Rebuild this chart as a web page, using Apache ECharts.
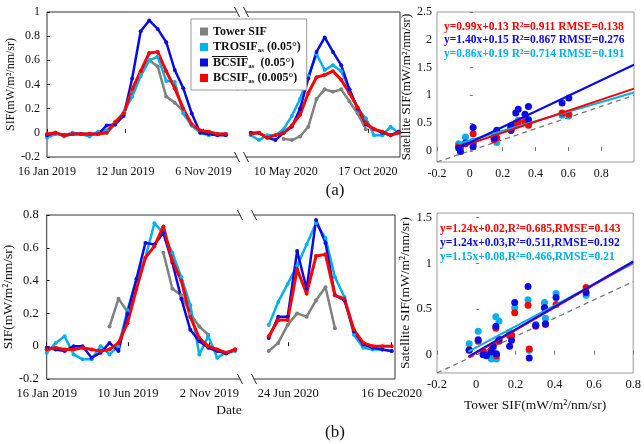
<!DOCTYPE html>
<html><head><meta charset="utf-8">
<script src="https://cdn.jsdelivr.net/npm/echarts@6/dist/echarts.min.js"></script>
<style>html,body{margin:0;padding:0;background:#fff}#c{width:644px;height:444px}</style>
</head><body><div id="c"></div>
<script>
// ---------- dates (16-day composites) ----------
const dates2019 = ['2019-01-16','2019-02-01','2019-02-17','2019-03-05','2019-03-21','2019-04-06','2019-04-22','2019-05-08','2019-05-24','2019-06-09','2019-06-25','2019-07-11','2019-07-27','2019-08-12','2019-08-28','2019-09-13','2019-09-29','2019-10-15','2019-10-31','2019-11-16','2019-12-02','2019-12-18'];
const datesA2020 = ['2020-03-03','2020-03-19','2020-04-04','2020-04-20','2020-05-06','2020-05-22','2020-06-07','2020-06-23','2020-07-09','2020-07-25','2020-08-10','2020-08-26','2020-09-11','2020-09-27','2020-10-13','2020-10-29','2020-11-14','2020-11-30','2020-12-16'];
const datesB2020 = ['2020-05-22','2020-06-07','2020-06-23','2020-07-09','2020-07-25','2020-08-10','2020-08-26','2020-09-11','2020-09-27','2020-10-13','2020-10-29','2020-11-14','2020-11-30','2020-12-16'];

// ---------- tick labels ----------
const ticksA1 = ['2019-01-16','2019-06-12','2019-11-06'];
const tickLabelsA1 = ['16 Jan 2019','12 Jun 2019','6 Nov 2019'];
const ticksA2 = ['2020-05-10','2020-10-17'];
const tickLabelsA2 = ['10 May 2020','17 Oct 2020'];
const ticksB1 = ['2019-01-16','2019-06-10','2019-11-02'];
const tickLabelsB1 = ['16 Jan 2019','10 Jun 2019','2 Nov 2019'];
const ticksB2 = ['2020-06-24','2020-12-16'];
const tickLabelsB2 = ['24 Jun 2020','16 Dec2020'];

// ---------- panel (a) time series ----------
const towerA1 = [-0.02,0.0,-0.03,-0.01,-0.01,-0.01,-0.01,0.0,0.07,0.15,0.34,0.5,0.6,0.55,0.3,0.25,0.18,0.06,0.01,0.0,-0.01,-0.01];
const troA1   = [-0.04,-0.01,-0.02,0.0,-0.01,-0.03,0.01,0.02,0.08,0.17,0.3,0.47,0.6,0.63,0.43,0.42,0.16,0.06,0.0,-0.02,-0.01,-0.01];
const bc05A1  = [-0.02,0.0,-0.02,-0.01,-0.01,-0.01,-0.01,0.06,0.07,0.14,0.45,0.84,0.93,0.86,0.75,0.52,0.37,0.16,0.0,-0.01,-0.02,-0.02];
const bc005A1 = [-0.01,0.0,-0.02,-0.01,-0.01,-0.01,-0.01,0.0,0.09,0.16,0.36,0.51,0.66,0.67,0.51,0.37,0.2,0.07,0.02,0.01,-0.01,-0.01];
const towerA2 = [null,null,null,null,-0.05,-0.06,-0.03,0.05,0.28,0.36,0.34,0.36,0.26,0.16,0.03,null,null,null,null];
const troA2   = [-0.02,-0.06,-0.02,-0.02,0.03,0.14,0.28,0.47,0.65,0.52,0.56,0.51,0.36,0.2,0.12,-0.02,-0.02,0.05,0.0];
const bc05A2  = [0.0,0.0,-0.04,-0.06,0.0,0.05,0.2,0.45,0.67,0.79,0.67,0.56,0.36,0.2,0.07,0.03,0.0,-0.02,0.01];
const bc005A2 = [-0.01,0.0,-0.04,-0.02,0.0,0.06,0.15,0.33,0.46,0.48,0.51,0.44,0.33,0.21,0.08,0.03,0.01,-0.02,0.0];

// ---------- panel (b) time series ----------
const towerB1 = [null,null,null,null,null,null,null,0.12,0.29,0.21,null,null,null,0.57,0.35,0.31,0.2,0.12,0.07,null,null,null];
const troB1   = [-0.04,0.02,0.06,-0.05,-0.08,-0.08,0.0,-0.05,0.0,0.22,0.41,0.54,0.75,0.69,0.57,0.42,0.25,-0.05,0.06,-0.07,-0.04,-0.03];
const bc05B1  = [-0.01,-0.02,-0.03,0.0,0.0,-0.07,-0.04,0.02,-0.03,0.2,0.41,0.63,0.62,0.69,0.51,0.29,0.1,0.03,-0.01,-0.03,-0.045,-0.02];
const bc005B1 = [-0.02,-0.01,-0.02,-0.02,-0.01,-0.02,-0.03,-0.02,0.02,0.14,0.35,0.54,0.61,0.73,0.52,0.4,0.18,0.05,0.0,-0.02,-0.04,-0.02];
const towerB2 = [-0.03,0.02,0.13,0.2,0.18,0.28,0.36,0.11,null,null,null,null,null,null];
const troB2   = [0.13,0.27,0.38,0.49,0.62,0.75,0.66,0.42,0.3,0.07,-0.01,-0.02,-0.02,-0.03];
const bc05B2  = [0.05,0.18,0.18,0.58,0.35,0.77,0.63,0.31,0.28,0.09,0.01,-0.01,-0.02,-0.03];
const bc005B2 = [0.06,0.16,0.16,0.47,0.32,0.55,0.56,0.31,0.29,0.1,0.02,0.0,0.0,0.0];

// ---------- scatter (a) ----------
const towerXA = [-0.068,-0.057,-0.027,0.02,0.02,0.148,0.164,0.25,0.25,0.28,0.295,0.336,0.357,0.357,0.562,0.603];
const satBlueA = [0.05,-0.01,0.14,0.42,0.08,0.23,0.37,0.45,0.37,0.68,0.75,0.66,0.8,0.56,0.86,0.95];
const satRedA  = [0.08,0.06,0.13,0.31,0.13,0.2,0.23,0.37,0.4,0.49,0.52,0.52,0.46,0.5,0.68,0.66];
const satCyanA = [0.13,0.1,0.25,0.18,0.15,0.26,0.15,0.43,0.4,0.5,0.55,0.58,0.56,0.52,0.64,0.63];
const fitA = {red:[0.99,0.13], blue:[1.40,0.15], cyan:[0.86,0.19]};
const eqA = ['y=0.99x+0.13 R²=0.911 RMSE=0.138','y=1.40x+0.15 R²=0.867 RMSE=0.276','y=0.86x+0.19 R²=0.714 RMSE=0.191'];

// ---------- scatter (b) ----------
const towerXB = [-0.036,0.01,0.035,0.052,0.077,0.086,0.1,0.103,0.116,0.17,0.18,0.196,0.264,0.27,0.303,0.348,0.353,0.407,0.56];
const satBlueB = [0.048,0.165,0.0,-0.011,0.026,0.092,0.31,0.011,0.17,0.092,0.158,0.57,0.746,-0.037,0.32,0.515,0.34,0.625,0.68];
const satRedB  = [0.055,0.147,0.037,0.0,0.055,0.1,0.29,-0.01,0.147,0.21,0.21,0.46,0.54,0.063,0.31,0.515,0.33,0.55,0.735];
const satCyanB = [0.12,0.257,0.026,0.018,-0.048,0.07,0.415,-0.048,0.37,0.246,0.22,0.515,0.6,0.048,0.33,0.57,0.4,0.67,0.65];
const fitB = {red:[1.24,0.02], blue:[1.24,0.03], cyan:[1.15,0.08]};
const eqB = ['y=1.24x+0.02,R²=0.685,RMSE=0.143','y=1.24x+0.03,R²=0.511,RMSE=0.192','y=1.15x+0.08,R²=0.466,RMSE=0.21'];

// ---------- helpers ----------
const D0 = Date.parse('2019-01-16');
const day = s => Math.round((Date.parse(s) - D0) / 864e5);
const FONT = 'Liberation Serif';
const C = {gray:'#808080', cyan:'#00b0f0', blue:'#0a0ae6', red:'#ff0000'};

function tsX(grid, min, max, ticks, labels, fs, margin) {
  const vals = ticks.map(day);
  return {type:'value', gridIndex:grid, min, max, axisLine:{show:false}, splitLine:{show:false},
    axisTick:{inside:true, length:4, customValues:vals, lineStyle:{color:'#222'}},
    axisLabel:{customValues:vals, formatter:v => labels[vals.indexOf(Math.round(v))] || '',
      fontFamily:FONT, fontSize:fs, color:'#111', margin}};
}
function tsY(grid, max, name, fs, gap, nfs, margin) {
  return {type:'value', gridIndex:grid, min:-0.2, max, interval:0.2, axisLine:{show:false}, splitLine:{show:false},
    axisTick:{inside:true, length:3, lineStyle:{color:'#222'}},
    axisLabel:{fontFamily:FONT, fontSize:fs, color:'#111', margin},
    name, nameLocation:'middle', nameGap:gap, nameTextStyle:{fontFamily:FONT, fontSize:nfs, color:'#111'}};
}
function hiddenY(grid, max) {
  return {type:'value', gridIndex:grid, min:-0.2, max, show:false};
}
function lines(dates, data, xi, yi) {
  const defs = [['Tower SIF', data[0], C.gray, 2.5], ['TROSIF', data[1], C.cyan, 2.5], ['BCSIF05', data[2], C.blue, 2.5], ['BCSIF005', data[3], C.red, 3]];
  return defs.map(([name, vals, color, w]) => ({
    type:'line', name, xAxisIndex:xi, yAxisIndex:yi,
    data: dates.map((d, i) => [day(d), vals[i] == null ? '-' : vals[i]]),
    symbol:'circle', symbolSize:4, showSymbol:true, connectNulls:false,
    lineStyle:{color, width:w}, itemStyle:{color}, z: 2
  }));
}
function scatters(xs, ys, fits, xi, yi, x0, x1) {
  const out = [];
  out.push({type:'line', xAxisIndex:xi, yAxisIndex:yi, data:[[-0.2,-0.2],[x1,x1]], symbol:'none',
    lineStyle:{color:'#777', width:1.3, type:[5,4]}, z:1});
  [['cyan', ys[2]], ['red', ys[1]], ['blue', ys[0]]].forEach(([k, arr]) => {
    out.push({type:'scatter', xAxisIndex:xi, yAxisIndex:yi, data: xs.map((x, i) => [x, arr[i]]),
      symbolSize:7, itemStyle:{color:C[k], opacity:1}, z:3});
  });
  [['cyan', fits.cyan], ['red', fits.red], ['blue', fits.blue]].forEach(([k, f]) => {
    out.push({type:'line', xAxisIndex:xi, yAxisIndex:yi, data:[[x0, f[0]*x0+f[1]],[x1, f[0]*x1+f[1]]],
      symbol:'none', lineStyle:{color:C[k], width:2}, z:4});
  });
  return out;
}

const legendLabels = {
  'Tower SIF':'{b|Tower SIF}',
  'TROSIF':'{b|TROSIF}{s|as}{b| (0.05°)}',
  'BCSIF05':'{b|BCSIF}{s|as}{b|  (0.05°)}',
  'BCSIF005':'{b|BCSIF}{s|as}{b| (0.005°)}'
};

const chart = echarts.init(document.getElementById('c'), null, {renderer:'canvas'});

const TSB = '#333', SCB = '#999';
const option = {
  animation:false,
  backgroundColor:'#fff',
  grid:[
    {left:47, top:12, width:190, height:145, show:true, borderColor:TSB, borderWidth:1},
    {left:246, top:12, width:154, height:145, show:true, borderColor:TSB, borderWidth:1},
    {left:46, top:215, width:194, height:164, show:true, borderColor:TSB, borderWidth:1},
    {left:254, top:215, width:141, height:164, show:true, borderColor:TSB, borderWidth:1},
    {left:437, top:12, width:197, height:150, show:true, borderColor:SCB, borderWidth:1},
    {left:437, top:213, width:197, height:160, show:true, borderColor:SCB, borderWidth:1}
  ],
  xAxis:[
    tsX(0, 0, 357, ticksA1, tickLabelsA1, 12, 9),
    tsX(1, 402.8, 702.4, ticksA2, tickLabelsA2, 12, 9),
    tsX(2, 0, 344.6, ticksB1, tickLabelsB1, 12.5, 8),
    tsX(3, 467, 705.6, ticksB2, tickLabelsB2, 12.5, 8),
    {type:'value', gridIndex:4, min:-0.2, max:1.0, interval:0.2, axisLine:{show:false}, splitLine:{show:false},
      axisTick:{inside:true, length:4, lineStyle:{color:'#777'}},
      axisLabel:{showMaxLabel:false, fontFamily:FONT, fontSize:12, color:'#111', margin:6}},
    {type:'value', gridIndex:5, min:-0.2, max:0.8, interval:0.2, axisLine:{show:false}, splitLine:{show:false},
      axisTick:{inside:true, length:4, lineStyle:{color:'#777'}},
      axisLabel:{fontFamily:FONT, fontSize:12.5, color:'#111', margin:5},
      name:'Tower SIF(mW/m²/nm/sr)', nameLocation:'middle', nameGap:25,
      nameTextStyle:{fontFamily:FONT, fontSize:13.5, color:'#111'}}
  ],
  yAxis:[
    tsY(0, 1, 'SIF(mW/m²/nm/sr)', 12, 25, 12, 7),
    hiddenY(1, 1),
    tsY(2, 0.8, 'SIF(mW/m²/nm/sr)', 12.5, 27, 13.5, 8),
    hiddenY(3, 0.8),
    {type:'value', gridIndex:4, min:-0.2, max:2.5, axisLine:{show:false}, splitLine:{show:false},
      axisTick:{inside:true, length:3, customValues:[0,0.5,1,1.5,2,2.5], lineStyle:{color:'#777'}},
      axisLabel:{customValues:[0,0.5,1,1.5,2,2.5], fontFamily:FONT, fontSize:12, color:'#111', margin:5},
      name:'Satellite SIF(mW/m²/nm/sr)', nameLocation:'middle', nameGap:19,
      nameTextStyle:{fontFamily:FONT, fontSize:13, color:'#111'}},
    {type:'value', gridIndex:5, min:-0.2, max:1.55, axisLine:{show:false}, splitLine:{show:false},
      axisTick:{inside:true, length:3, customValues:[0,0.5,1,1.5], lineStyle:{color:'#777'}},
      axisLabel:{customValues:[0,0.5,1,1.5], fontFamily:FONT, fontSize:12.5, color:'#111', margin:5},
      name:'Satellite SIF(mW/m²/nm/sr)', nameLocation:'middle', nameGap:19,
      nameTextStyle:{fontFamily:FONT, fontSize:13.5, color:'#111'}}
  ],
  legend:{
    data:['Tower SIF','TROSIF','BCSIF05','BCSIF005'], selectedMode:false, z:10,
    orient:'vertical', left:191, top:19, padding:[5.5,6,5,9], itemWidth:8, itemHeight:8, itemGap:1.5,
    icon:'rect', backgroundColor:'#fff', borderColor:'#999', borderWidth:1,
    formatter: n => legendLabels[n],
    textStyle:{fontFamily:FONT, fontWeight:'bold', fontSize:12, lineHeight:14, color:'#111',
      rich:{ b:{fontFamily:FONT, fontWeight:'bold', fontSize:12, lineHeight:14, color:'#111'},
             s:{fontFamily:FONT, fontWeight:'bold', fontSize:7, lineHeight:7, verticalAlign:'bottom', color:'#111'} }}
  },
  series:[
    ...lines(dates2019, [towerA1, troA1, bc05A1, bc005A1], 0, 0),
    ...lines(datesA2020, [towerA2, troA2, bc05A2, bc005A2], 1, 1),
    ...lines(dates2019, [towerB1, troB1, bc05B1, bc005B1], 2, 2),
    ...lines(datesB2020, [towerB2, troB2, bc05B2, bc005B2], 3, 3),
    ...scatters(towerXA, [satBlueA, satRedA, satCyanA], fitA, 4, 4, -0.07, 1.0),
    ...scatters(towerXB, [satBlueB, satRedB, satCyanB], fitB, 5, 5, -0.04, 0.8)
  ],
  graphic:{elements:[]}
};

// break covers (only over the inner vertical borders, leaving the legend untouched) and slashes
const G = option.graphic.elements;
function brk(x1, x2, yt, yb, spans) {
  spans.forEach(([a, b]) => {
    G.push({type:'rect', z:5, shape:{x:x1 - 1, y:a, width:x2 - x1 + 2, height:b - a}, style:{fill:'#fff'}});
  });
  [x1, x2].forEach(x => [yt, yb].forEach(y => {
    G.push({type:'line', z:6, shape:{x1:x-2.5, y1:y-5, x2:x+2.5, y2:y+5}, style:{stroke:'#222', lineWidth:1}});
  }));
}
brk(237, 246, 12, 157, [[12.5, 18.5], [90.5, 156.5]]);
brk(240, 254, 215, 379, [[215.5, 378.5]]);
// overline on BCSIF (legend)
G.push({type:'line', z:120, zlevel:1, shape:{x1:212, y1:56.5, x2:247, y2:56.5}, style:{stroke:'#111', lineWidth:1}});
// equations
const eqColors = [C.red, C.blue, C.cyan];
eqA.forEach((t, i) => G.push({type:'text', z:101, x:444, y:26.7 + i*13.8,
  style:{text:t, fill:eqColors[i], font:'bold 11.5px "Liberation Serif"', textVerticalAlign:'middle'}}));
eqB.forEach((t, i) => G.push({type:'text', z:101, x:440, y:229.3 + i*14,
  style:{text:t, fill:eqColors[i], font:'bold 11.5px "Liberation Serif"', textVerticalAlign:'middle'}}));
// panel labels
G.push({type:'text', z:101, x:335, y:191, style:{text:'(a)', fill:'#111', font:'17px "Liberation Serif"', textAlign:'center', textVerticalAlign:'middle'}});
G.push({type:'text', z:101, x:335, y:433, style:{text:'(b)', fill:'#111', font:'17px "Liberation Serif"', textAlign:'center', textVerticalAlign:'middle'}});
G.push({type:'text', z:101, x:229, y:410, style:{text:'Date', fill:'#111', font:'13.5px "Liberation Serif"', textAlign:'center', textVerticalAlign:'middle'}});

chart.setOption(option);
</script>
</body></html>
